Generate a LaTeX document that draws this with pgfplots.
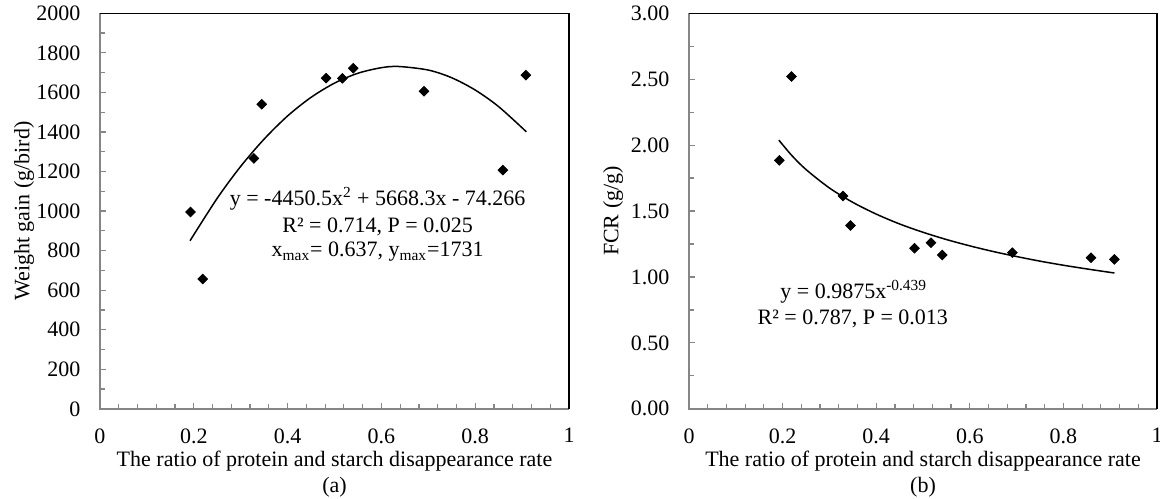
\documentclass[border=0pt]{standalone}
\usepackage{fontspec}
\setmainfont{Liberation Serif}
\usepackage{pgfplots}
\pgfplotsset{compat=1.18}
\definecolor{axgray}{RGB}{134,134,134}

\pgfplotsset{
  panel/.style={
    scale only axis, width=234.5pt, height=197.75pt,
    anchor=south west,
    xmin=0, xmax=1, xtick={0,0.2,0.4,0.6,0.8,1}, minor x tick num=4,
    tick pos=left, tick align=inside,
    major tick length=3pt, minor tick length=2.5pt,
    tick style={axgray, line width=0.6pt},
    axis line style={draw=none},
    clip=false,
    font=\fontsize{11}{13}\selectfont,
    tick label style={font=\fontsize{11}{13}\selectfont},
    /pgf/number format/assume math mode=true,
    /pgf/number format/1000 sep={},
    scaled ticks=false,
    xticklabel style={yshift=-6.3pt},
    yticklabel style={xshift=-6.3pt},
    xlabel style={at={(axis description cs:0.5,-0.1645)}, anchor=center,
      align=center, font=\fontsize{11}{13}\selectfont},
    ylabel style={at={(axis description cs:-0.162,0.5)}, anchor=center,
      font=\fontsize{11}{13}\selectfont},
    xlabel={The ratio of protein and starch disappearance rate\\(#1)},
  },
  pts/.style={only marks, mark=square*, mark size=1.7pt,
    mark options={rotate=45, fill=black, draw=black}},
  fit/.style={black, line width=0.75pt, smooth, mark=none},
}

\begin{document}
\begin{tikzpicture}

% (a) weight gain
\begin{axis}[panel=a, at={(0pt,0pt)},
    ymin=0, ymax=2000, ytick={0,200,...,2000}, minor y tick num=1,
    ylabel={Weight gain (g/bird)}]
  \draw[axgray, line width=1pt] (rel axis cs:0,1) -- (rel axis cs:0,0) -- (rel axis cs:1,0);
  \draw[black, line width=0.8pt] (rel axis cs:0,1) -- (rel axis cs:1,1) -- (rel axis cs:1,0);
  \addplot[fit] coordinates {
    (0.192,850) (0.25,1065) (0.30,1226) (0.35,1364) (0.40,1481) (0.45,1575)
    (0.50,1647) (0.55,1697) (0.60,1725) (0.637,1731) (0.70,1713) (0.75,1674)
    (0.80,1612) (0.85,1528) (0.909,1401)
  };
  \addplot[pts] coordinates {
    (0.193,995) (0.219,656) (0.328,1266) (0.345,1540) (0.482,1672)
    (0.517,1671) (0.540,1722) (0.691,1606) (0.859,1207) (0.908,1687)
  };
  \node[anchor=base] at (axis cs:0.592,1030) {y = -4450.5x\textsuperscript{2} + 5668.3x - 74.266};
  \node[anchor=base] at (axis cs:0.592,894) {R² = 0.714, P = 0.025};
  \node[anchor=base] at (axis cs:0.592,768) {x\textsubscript{max}= 0.637, y\textsubscript{max}=1731};
\end{axis}

% (b) FCR
\begin{axis}[panel=b, at={(294.5pt,0pt)}, width=234pt,
    ymin=0, ymax=3, ytick={0,0.5,...,3}, minor y tick num=1,
    yticklabel style={/pgf/number format/.cd, fixed, fixed zerofill, precision=2},
    ylabel={FCR (g/g)}]
  \draw[axgray, line width=1pt] (rel axis cs:0,1) -- (rel axis cs:0,0) -- (rel axis cs:1,0);
  \draw[black, line width=0.8pt] (rel axis cs:0,1) -- (rel axis cs:1,1) -- (rel axis cs:1,0);
  \addplot[fit] coordinates {
    (0.192,2.038) (0.22,1.920) (0.25,1.815) (0.30,1.675) (0.35,1.566)
    (0.40,1.477) (0.45,1.402) (0.50,1.339) (0.55,1.284) (0.60,1.236)
    (0.65,1.193) (0.70,1.155) (0.75,1.120) (0.80,1.089) (0.85,1.061) (0.909,1.030)
  };
  \addplot[pts] coordinates {
    (0.193,1.885) (0.219,2.52) (0.329,1.615) (0.345,1.39) (0.482,1.218)
    (0.517,1.26) (0.541,1.167) (0.691,1.184) (0.859,1.146) (0.909,1.133)
  };
  \node[anchor=base] at (axis cs:0.352,0.837) {y = 0.9875x\textsuperscript{-0.439}};
  \node[anchor=base] at (axis cs:0.350,0.642) {R² = 0.787, P = 0.013};
\end{axis}

\pgfresetboundingbox
\useasboundingbox (-50pt,-45pt) rectangle (530pt,204.4pt);
\end{tikzpicture}
\end{document}
